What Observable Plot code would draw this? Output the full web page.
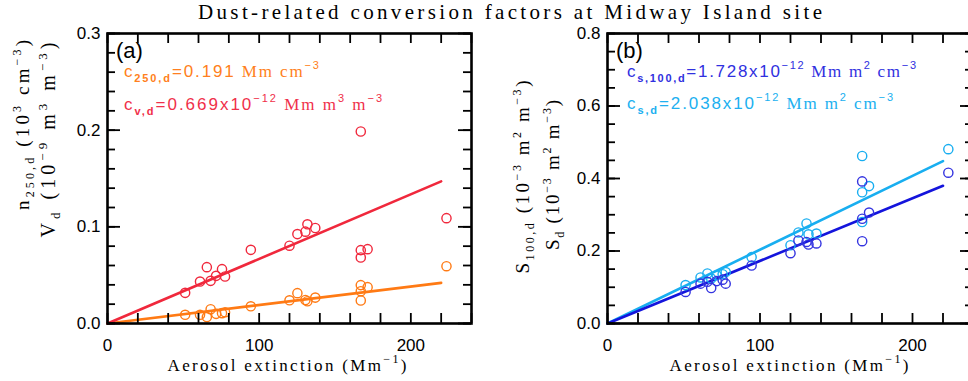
<!DOCTYPE html>
<html><head><meta charset="utf-8">
<script src="https://cdn.jsdelivr.net/npm/d3@7"></script>
<script src="https://cdn.jsdelivr.net/npm/@observablehq/plot@0.6"></script>
<style>
html,body{margin:0;padding:0;background:#fff;}
#wrap{position:relative;width:968px;height:381px;overflow:hidden;background:#fff;}
</style></head><body><div id="wrap"></div>
<script>
// Aerosol extinction (Mm^-1) of each dust sample
const ext = [51.2, 61.0, 65.5, 68.0, 71.6, 75.5, 77.5, 94.5, 120.0, 125.2, 130.5, 131.8, 137.0, 167.0, 167.0, 167.0, 171.5, 223.5];
// panel (a)
const volD = [0.0317, 0.0434, 0.0583, 0.0441, 0.0493, 0.0562, 0.0486, 0.0762, 0.0805, 0.0925, 0.0950, 0.1026, 0.0988, 0.1986, 0.0759, 0.0683, 0.0769, 0.1090];
const num250 = [0.0090, 0.0090, 0.0066, 0.0148, 0.0100, 0.0107, 0.0117, 0.0178, 0.0240, 0.0314, 0.0243, 0.0230, 0.0268, 0.0397, 0.0334, 0.0238, 0.0376, 0.0593];
// panel (b)
const surfD = [0.106, 0.127, 0.138, 0.124, 0.133, 0.136, 0.142, 0.183, 0.216, 0.251, 0.276, 0.246, 0.248, 0.462, 0.362, 0.280, 0.379, 0.481];
const surf100 = [0.087, 0.110, 0.115, 0.098, 0.117, 0.121, 0.110, 0.160, 0.194, 0.229, 0.225, 0.218, 0.221, 0.392, 0.289, 0.227, 0.306, 0.416];
// fitted lines (end points)
const fitX = [0, 220];
const fitV = [0, 0.147];
const fitN = [0, 0.042];
const fitS = [0, 0.448];
const fitS100 = [0, 0.380];
// ticks
const xTicks = [0, 20, 40, 60, 80, 100, 120, 140, 160, 180, 200, 220, 240];
const xLabels = [0, 100, 200];
const yMajorA = [0, 0.1, 0.2, 0.3];
const yMinorA = [0, 0.02, 0.04, 0.06, 0.08, 0.1, 0.12, 0.14, 0.16, 0.18, 0.2, 0.22, 0.24, 0.26, 0.28, 0.3];
const yMajorB = [0, 0.2, 0.4, 0.6, 0.8];
const yMinorB = [0, 0.05, 0.1, 0.15, 0.2, 0.25, 0.3, 0.35, 0.4, 0.45, 0.5, 0.55, 0.6, 0.65, 0.7, 0.75, 0.8];

const redC = "#f0283c", orangeC = "#ff7a14", blueC = "#1414dc", blueDot = "#3434e0", lightC = "#18aef0";

const rowsA = ext.map((e, i) => ({ext: e, vol: volD[i], num: num250[i]}));
const rowsB = ext.map((e, i) => ({ext: e, s: surfD[i], s100: surf100[i]}));
const fitRows = fitX.map((x, i) => ({x, v: fitV[i], n: fitN[i], s: fitS[i], s100: fitS100[i]}));

const H = 381, MT = 33, MB = 58, FH = H - MT - MB;
const TW = 1.8, XT = 10, YMAJ = 13, YMIN = 8;
const ident = (d) => d;
function frameAxes(W, ML, MR, yMajor, yMinor, fmt) {
  const FW = W - ML - MR;
  const tk = {stroke: "#000", strokeWidth: TW};
  return [
    Plot.tickX(xTicks, {x: ident, insetTop: FH - XT, ...tk}),
    Plot.tickX(xTicks, {x: ident, insetBottom: FH - XT, ...tk}),
    Plot.tickY(yMinor, {y: ident, insetRight: FW - YMIN, ...tk}),
    Plot.tickY(yMajor, {y: ident, insetRight: FW - YMAJ, ...tk}),
    Plot.tickY(yMinor, {y: ident, insetLeft: FW - YMIN, ...tk}),
    Plot.tickY(yMajor, {y: ident, insetLeft: FW - YMAJ, ...tk}),
    Plot.axisX(xLabels, {anchor: "bottom", tickSize: 0, tickPadding: 15, label: null}),
    Plot.axisY(yMajor, {anchor: "left", tickSize: 0, tickPadding: 7, tickFormat: fmt, label: null}),
    Plot.frame({strokeWidth: 2.6})
  ];
}
const plotStyle = {fontFamily: "Liberation Sans, Arial, sans-serif", fontSize: "17px", color: "#000", background: "transparent", overflow: "visible"};
const fmt1 = d3.format(".1f");

// panel (a) is the root svg spanning the whole figure
const WA = 968, MLA = 107, MRA = 968 - 471;
const plotA = Plot.plot({
  width: WA, height: H,
  marginLeft: MLA, marginRight: MRA, marginTop: MT, marginBottom: MB,
  x: {domain: [0, 240], label: null},
  y: {domain: [0, 0.3], label: null},
  style: plotStyle,
  marks: [
    Plot.line(fitRows, {x: "x", y: "n", stroke: orangeC, strokeWidth: 2.6}),
    Plot.line(fitRows, {x: "x", y: "v", stroke: redC, strokeWidth: 2.6}),
    Plot.dot(rowsA, {x: "ext", y: "num", r: 4.6, stroke: orangeC, strokeWidth: 1.4}),
    Plot.dot(rowsA, {x: "ext", y: "vol", r: 4.6, stroke: redC, strokeWidth: 1.4}),
    ...frameAxes(WA, MLA, MRA, yMajorA, yMinorA, fmt1)
  ]
});
// panel (b) nested inside it
const OB = 490;
const plotB = Plot.plot({
  width: 490, height: H,
  marginLeft: 117, marginRight: 7, marginTop: MT, marginBottom: MB,
  x: {domain: [0, 240], label: null},
  y: {domain: [0, 0.8], label: null},
  style: plotStyle,
  marks: [
    Plot.line(fitRows, {x: "x", y: "s", stroke: lightC, strokeWidth: 2.6}),
    Plot.line(fitRows, {x: "x", y: "s100", stroke: blueC, strokeWidth: 2.6}),
    Plot.dot(rowsB, {x: "ext", y: "s", r: 4.6, stroke: lightC, strokeWidth: 1.4}),
    Plot.dot(rowsB, {x: "ext", y: "s100", r: 4.6, stroke: blueDot, strokeWidth: 1.4}),
    ...frameAxes(490, 117, 7, yMajorB, yMinorB, fmt1)
  ]
});
plotB.setAttribute("x", OB);
plotB.setAttribute("y", 0);
plotA.appendChild(plotB);
plotA.style.width = "968px"; plotA.style.maxWidth = "none";
document.getElementById("wrap").appendChild(plotA);

// texts (real SVG text)
const SANS = "Liberation Sans, Arial, sans-serif", SERIF = "Liberation Serif, Times New Roman, serif";
const root = d3.select(plotA).append("g").attr("class", "labels");
function addText({x, y, rotate = 0, anchor = "start", fill = "#000", len = null, parts}) {
  const t = root.append("text").attr("transform", `translate(${x},${y}) rotate(${rotate})`)
    .attr("text-anchor", anchor).attr("fill", fill).attr("stroke", "none");
  if (len) t.attr("textLength", len).attr("lengthAdjust", "spacing");
  let cur = 0;
  for (const p of parts) {
    const sh = p.shift || 0;
    t.append("tspan").attr("dy", sh - cur).attr("font-family", p.font || SERIF)
      .attr("font-size", p.size || 17).attr("font-weight", p.weight || null).text(p.t);
    cur = sh;
  }
}
const SUB = 4.5, SUP = -8;
const sub = (t, size = 12) => ({t, size, shift: SUB});
const sup = (t, size = 12) => ({t, size, shift: SUP});
const S = (t) => ({t, size: 17, font: SANS});
const R = (t) => ({t, size: 17, font: SERIF});
const sb = (t) => ({t, size: 11, font: SANS, weight: "bold", shift: SUB});
const sp = (t) => ({t, size: 11, font: SANS, shift: SUP});

addText({x: 510, y: 19, anchor: "middle", len: 624, parts: [{t: "Dust-related conversion factors at Midway Island site", size: 21}]});
for (const cx of [287, 789]) {
  addText({x: cx, y: 371, anchor: "middle", len: 239, parts: [{t: "Aerosol extinction (Mm", size: 17}, sup("−1"), {t: ")", size: 17}]});
}
// y labels
addText({x: 29, y: 125, rotate: -90, anchor: "middle", len: 170, parts: [{t: "n", size: 19}, sub("250,d"), {t: " (10", size: 19}, sup("3"), {t: " cm", size: 19}, sup("−3"), {t: ")", size: 19}]});
addText({x: 55, y: 140, rotate: -90, anchor: "middle", len: 195, parts: [{t: "V", size: 20}, sub("d", 13), {t: " (10", size: 20}, sup("−9", 13), {t: " m", size: 20}, sup("3", 13), {t: " m", size: 20}, sup("−3", 13), {t: ")", size: 20}]});
addText({x: 529, y: 177, rotate: -90, anchor: "middle", len: 193, parts: [{t: "S", size: 19}, sub("100,d"), {t: " (10", size: 19}, sup("−3"), {t: " m", size: 19}, sup("2"), {t: " m", size: 19}, sup("−3"), {t: ")", size: 19}]});
addText({x: 559, y: 175, rotate: -90, anchor: "middle", len: 150, parts: [{t: "S", size: 19}, sub("d"), {t: " (10", size: 19}, sup("−3"), {t: " m", size: 19}, sup("2"), {t: " m", size: 19}, sup("−3"), {t: ")", size: 19}]});
// panel letters
addText({x: 116, y: 58, parts: [{t: "(a)", size: 22, font: SANS}]});
addText({x: 616, y: 58, parts: [{t: "(b)", size: 22, font: SANS}]});
// annotations
addText({x: 124, y: 77, fill: "#ff7f20", len: 195, parts: [S("c"), sb("250,d"), S("=0.191"), R(" Mm cm"), sp("−3")]});
addText({x: 124, y: 110, fill: "#f0304a", len: 258, parts: [S("c"), sb("v,d"), S("=0.669x10"), sp("−12"), R(" Mm m"), sp("3"), R(" m"), sp("−3")]});
addText({x: 627, y: 77, fill: "#3030e0", len: 289, parts: [S("c"), sb("s,100,d"), S("=1.728x10"), sp("−12"), R(" Mm m"), sp("2"), R(" cm"), sp("−3")]});
addText({x: 627, y: 109, fill: "#20b0f0", len: 266, parts: [S("c"), sb("s,d"), S("=2.038x10"), sp("−12"), R(" Mm m"), sp("2"), R(" cm"), sp("−3")]});
</script></body></html>
